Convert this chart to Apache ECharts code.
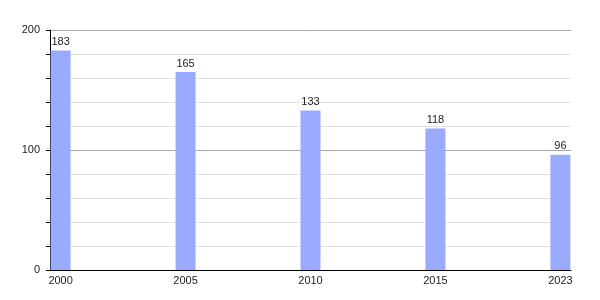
<!DOCTYPE html>
<html><head><meta charset="utf-8">
<script src="https://cdn.jsdelivr.net/npm/echarts@6/dist/echarts.min.js"></script>
<style>html,body{margin:0;padding:0;background:#fff}#c{width:600px;height:300px}</style>
</head><body><div id="c"></div>
<script>
const years = ['2000','2005','2010','2015','2023'];
const values = [183,165,133,118,96];
const yTicks = [0,100,200];

const chart = echarts.init(document.getElementById('c'), null, {renderer:'canvas'});
const font = 'Liberation Sans, Arial, sans-serif';
chart.setOption({
  animation:false,
  grid:{left:50,right:29,top:30,bottom:30,containLabel:false},
  xAxis:{
    type:'value', min:-0.085, max:years.length-1+0.085,
    axisLine:{show:true,onZero:false,lineStyle:{color:'#000',width:1}},
    axisTick:{show:false},
    splitLine:{show:false},
    axisLabel:{customValues:years.map((_,i)=>i),formatter:v=>years[Math.round(v)],color:'#222',fontSize:11,fontFamily:font,margin:5}
  },
  yAxis:{
    type:'value', min:0, max:200, interval:100,
    axisLine:{show:true,onZero:false,lineStyle:{color:'#000',width:1}},
    axisTick:{show:true,length:4,lineStyle:{color:'#000'}},
    minorTick:{show:true,splitNumber:5,length:4,lineStyle:{color:'#000'}},
    splitLine:{show:true,lineStyle:{color:'#a8a8a8',width:1}},
    minorSplitLine:{show:true,lineStyle:{color:'#e2e2e2',width:1}},
    axisLabel:{color:'#222',fontSize:11,fontFamily:font,margin:10}
  },
  series:[{
    type:'bar', barWidth:20,
    data:values.map((v,i)=>[i,v]),
    itemStyle:{color:'#9aabff'},
    label:{show:true,position:'top',distance:3,color:'#222',fontSize:11,fontFamily:font}
  }]
});
</script></body></html>
